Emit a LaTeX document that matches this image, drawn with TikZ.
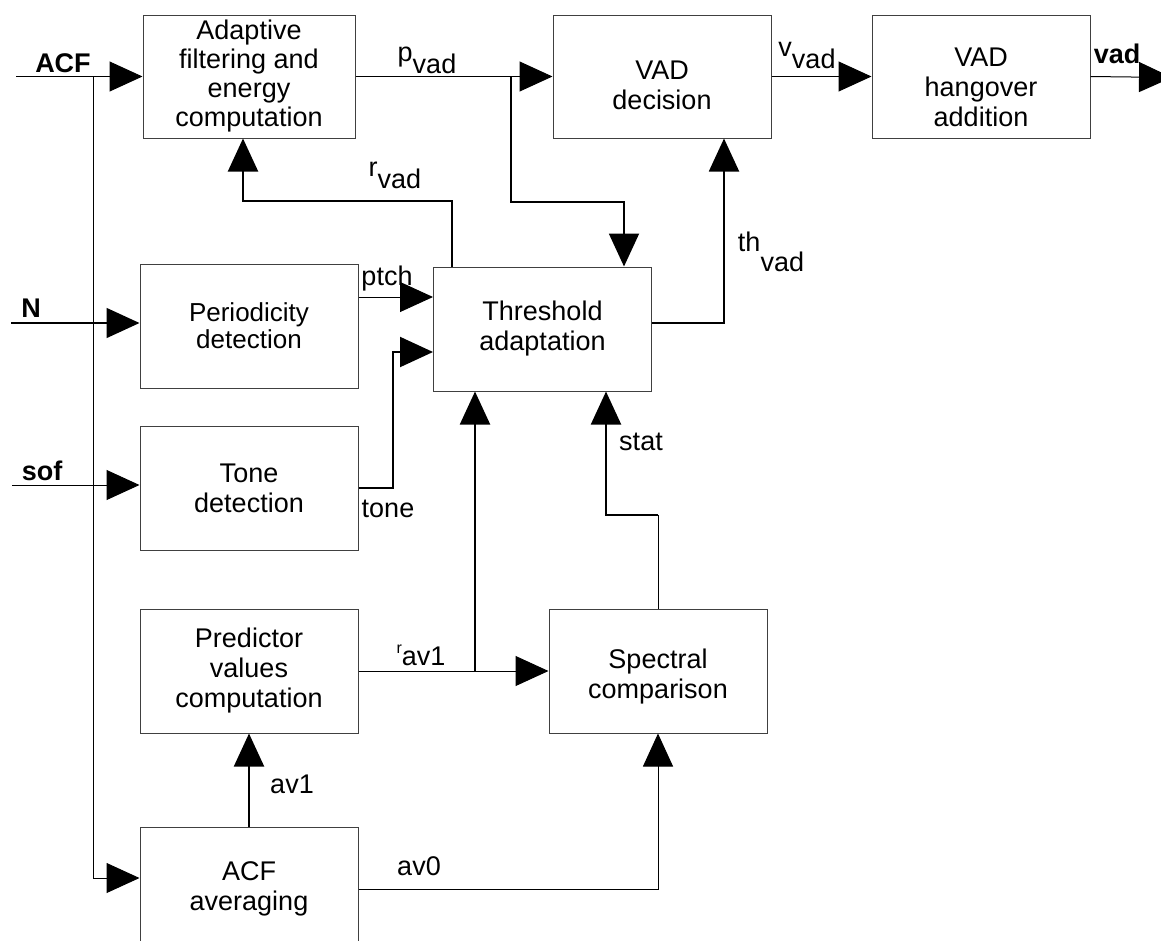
\documentclass[tikz,border=0pt]{standalone}
\usepackage{fontspec}
\setmainfont{Liberation Sans}
\usetikzlibrary{arrows.meta}
\usetikzlibrary{positioning}

\tikzset{
  block/.style={draw=black!75, line width=1pt, minimum width=218pt, minimum height=124pt,
    align=center, inner sep=0pt, font=\fontsize{27}{30}\selectfont},
  wire/.style={line width=1pt},
  bus/.style={line width=2pt},
  tip/.style={-{Triangle[length=33pt,width=30pt]}},
  sig/.style={inner sep=0pt, font=\fontsize{27}{30}\selectfont},
  port/.style={inner sep=0pt, font=\fontsize{27}{30}\selectfont\bfseries},
}
\newcommand{\subdrop}[2]{#1\raisebox{-12pt}{#2}}

\begin{document}
\begin{tikzpicture}[x=1pt, y=-1pt]
    \useasboundingbox (0,0) rectangle (1161,940);
    \clip (0,0) rectangle (1161,940);

    % blocks
    \node[block, minimum width=212pt, minimum height=123pt, font=\fontsize{27}{29}\selectfont] (adapt) at (249,76.5) {Adaptive\\filtering and\\energy\\computation};
    \node[block, minimum height=123pt, text height=66pt] (vad) [right=197pt of adapt] {VAD\\decision};
    \node[block, minimum height=123pt, text height=100pt] (hang) [right=100pt of vad] {VAD\\hangover\\addition};
    \node[block, font=\fontsize{26}{27}\selectfont] (period) [below=125pt of adapt] {Periodicity\\detection};
    \node[block] (tone) [below=37pt of period] {Tone\\detection};
    \node[block] (thresh) at (542.5,329) {Threshold\\adaptation};
    \node[block] (pred) [below=58pt of tone] {Predictor\\values\\computation};
    \node[block, text height=61pt] (spec) [right=190pt of pred] {Spectral\\comparison};
    \node[block] (avg) [below=93pt of pred] {ACF\\averaging};

    % inputs and output
    \node[port] (acf) at (63,63) {ACF};
    \node[port] (nlab) at (31,308) {N};
    \node[port] (sof) at (42,471) {sof};
    \node[port] (vadout) at (1117,54) {vad};

    % signal labels
    \node[sig] (pvad) at (427,60) {\subdrop{p}{vad}};
    \node[sig] (vvad) at (807,55) {\subdrop{v}{vad}};
    \node[sig] (rvad) at (395,175) {\subdrop{r}{vad}};
    \node[sig] (thvad) at (771,252) {th\raisebox{-20pt}{vad}};
    \node[sig] (ptch) at (387,279) {ptch};
    \node[sig] (tonelab) at (388,509) {tone};
    \node[sig] (stat) at (641,442) {stat};
    \node[sig] (rav) at (421,655) {{\fontsize{16}{16}\selectfont r}\raisebox{-12pt}{av1}};
    \node[sig] (avone) at (292,784) {av1};
    \node[sig] (avzero) at (419,866) {av0};

    % helper points
    \coordinate (acfin) at (16,76.5);
    \coordinate (busend) at (93,878);
    \coordinate (nin) at (11,323);
    \coordinate (sofin) at (12,485);
    \coordinate (outend) at (1172,77.5);
    \coordinate (pjoin) at (511,76.5);
    \coordinate (pbend) at (624,202);
    \coordinate (rbend) at (452,201);
    \coordinate (rleft) at (243,201);
    \coordinate (thbend) at (724,323);
    \coordinate (ptchy) at (0,297);
    \coordinate (tonebend) at (393,352);
    \coordinate (rx) at (475,0);
    \coordinate (staty) at (0,515);
    \coordinate (statx) at (606,0);

    % ACF input and bus
    \draw[wire, tip] (acfin) -- (adapt.west);
    \draw[wire, tip] (acfin -| busend) -- (busend) -- (busend -| avg.west);
    \draw[line width=1.5pt, tip] (nin) -- (nin -| period.west);
    \draw[wire, tip] (sofin) -- (sofin -| tone.west);

    % top chain
    \draw[wire, tip] (adapt.east) -- (vad.west);
    \draw[wire, tip] (vad.east) -- (hang.west);
    \draw[wire, tip] (hang.east) -- (outend);

    % p_vad branch and r_vad feedback
    \draw[bus, tip] (pjoin) |- (pbend) -- (pbend |- thresh.north);
    \draw[bus, tip] (rbend |- thresh.north) -- (rbend) -- (rleft) -- (rleft |- adapt.south);

    % th_vad
    \draw[bus, tip] (thresh.east |- thbend) -- (thbend) -- (thbend |- vad.south);

    % ptch and tone
    \draw[wire, tip] (period.east |- ptchy) -- (thresh.west |- ptchy);
    \draw[bus, tip] (tone.east) -| (tonebend) -- (tonebend -| thresh.west);

    % r_av1
    \draw[wire, tip] (pred.east) -- (spec.west);
    \draw[bus, tip] (pred.east -| rx) -- (rx |- thresh.south);

    % stat
    \draw[wire] (spec.north) -- (spec.north |- staty);
    \draw[bus, tip] (spec.north |- staty) -| (statx |- thresh.south);

    % av1 and av0
    \draw[bus, tip] (avg.north) -- (pred.south);
    \draw[wire, tip] (avg.east) -| (spec.south);
\end{tikzpicture}
\end{document}
